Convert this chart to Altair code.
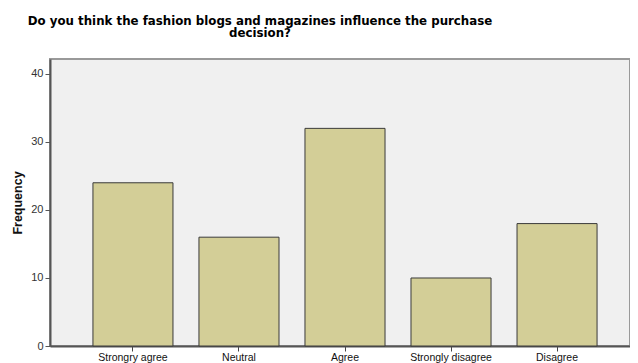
import altair as alt
import pandas as pd

categories = ["Strongry agree", "Neutral", "Agree", "Strongly disagree", "Disagree"]
frequencies = [24, 16, 32, 10, 18]
y_ticks = [0, 10, 20, 30, 40]
title_lines = ["Do you think the fashion blogs and magazines influence the purchase", "decision?"]

df = pd.DataFrame({"Answer": categories, "Frequency": frequencies})

FONT = "Liberation Sans"

chart = alt.Chart(df).mark_bar(
    fill="#D3CE97", stroke="#3a3a3a", strokeWidth=1
).encode(
    x=alt.X("Answer:N", sort=categories,
            scale=alt.Scale(paddingInner=0.245, paddingOuter=0.405, range=[0, 590]),
            axis=alt.Axis(title=None, labelAngle=0, labelFont=FONT, labelFontSize=10.5,
                          labelColor="#111", tickColor="#444", tickSize=5, tickWidth=1,
                          domainColor="#555", domainWidth=2, labelPadding=1)),
    y=alt.Y("Frequency:Q",
            scale=alt.Scale(domain=[0, 42.2], nice=False, zero=True),
            axis=alt.Axis(values=y_ticks, title="Frequency", titleFont=FONT, titleFontSize=12.5,
                          titleFontWeight="bold", titleColor="#111", labelFont=FONT,
                          labelFontSize=11, labelColor="#333", tickColor="#555", tickSize=5,
                          domainColor="#555", domainWidth=2, grid=False, labelPadding=2,
                          titlePadding=6)),
).properties(
    width=580,
    height=287,
    title=alt.TitleParams(text=title_lines, font="DejaVu Sans", fontSize=11.8, fontWeight="bold",
                          color="#000", anchor="middle", dx=-80, lineHeight=12.5, offset=19),
    autosize=alt.AutoSizeParams(type="none"),
    padding={"left": 42, "top": 51, "right": 0, "bottom": 17},
    background="#ffffff",
).configure_view(
    fill="#F0F0F0", stroke="#999999", strokeWidth=2
)

chart.save("out.html", embed_options={"renderer": "svg", "actions": False})
